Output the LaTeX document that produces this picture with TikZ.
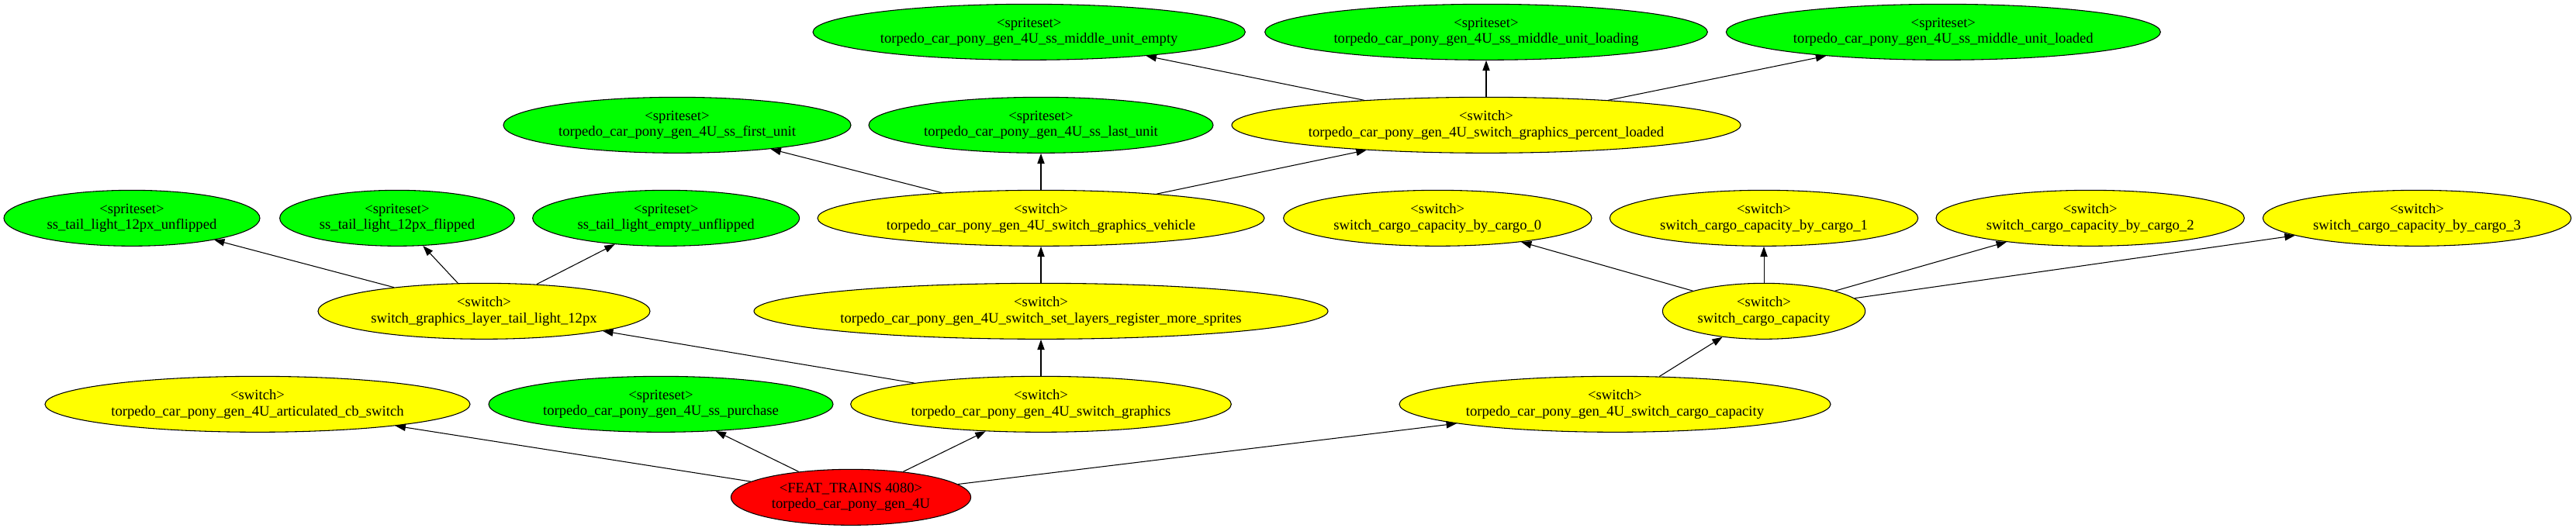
\documentclass[tikz,border=0pt]{standalone}
\usepackage{fontspec}
\setmainfont{Liberation Serif}
\usetikzlibrary{shapes.geometric,arrows.meta}
\tikzset{
  gv/.style={ellipse, draw=black, line width=0.8pt, inner sep=0pt, minimum height=54pt,
    align=center, font=\fontsize{14}{15.5}\selectfont},
  sprite/.style={gv, fill={rgb,255:red,0;green,255;blue,0}},
  swnode/.style={gv, fill={rgb,255:red,255;green,255;blue,0}},
  featnode/.style={gv, fill={rgb,255:red,255;green,0;blue,0}},
  edge/.style={draw=black, line width=0.8pt, -{Triangle[length=10pt,width=7pt]}}
}
\begin{document}
\begin{tikzpicture}[x=1pt,y=-1pt]
\useasboundingbox (0,0) rectangle (2490.75,510.75);
% row 1
\node[sprite, minimum width=418pt] (me) at (995,31) {<spriteset>\\torpedo\_car\_pony\_gen\_4U\_ss\_middle\_unit\_empty};
\node[sprite, minimum width=428pt] (ml) at (1437,31) {<spriteset>\\torpedo\_car\_pony\_gen\_4U\_ss\_middle\_unit\_loading};
\node[sprite, minimum width=420pt] (md) at (1879,31) {<spriteset>\\torpedo\_car\_pony\_gen\_4U\_ss\_middle\_unit\_loaded};
% row 2
\node[sprite, minimum width=336pt] (fu) at (654.75,121) {<spriteset>\\torpedo\_car\_pony\_gen\_4U\_ss\_first\_unit};
\node[sprite, minimum width=333pt] (lu) at (1006.5,121) {<spriteset>\\torpedo\_car\_pony\_gen\_4U\_ss\_last\_unit};
\node[swnode, minimum width=492pt] (pl) at (1437,121) {<switch>\\torpedo\_car\_pony\_gen\_4U\_switch\_graphics\_percent\_loaded};
% row 3
\node[sprite, minimum width=247.5pt] (tu) at (127.5,211) {<spriteset>\\ss\_tail\_light\_12px\_unflipped};
\node[sprite, minimum width=227pt] (tf) at (384,211) {<spriteset>\\ss\_tail\_light\_12px\_flipped};
\node[sprite, minimum width=258pt] (te) at (644,211) {<spriteset>\\ss\_tail\_light\_empty\_unflipped};
\node[swnode, minimum width=432pt] (veh) at (1006.5,211) {<switch>\\torpedo\_car\_pony\_gen\_4U\_switch\_graphics\_vehicle};
\node[swnode, minimum width=298pt] (c0) at (1390,211) {<switch>\\switch\_cargo\_capacity\_by\_cargo\_0};
\node[swnode, minimum width=298pt] (c1) at (1705.5,211) {<switch>\\switch\_cargo\_capacity\_by\_cargo\_1};
\node[swnode, minimum width=298pt] (c2) at (2021,211) {<switch>\\switch\_cargo\_capacity\_by\_cargo\_2};
\node[swnode, minimum width=298pt] (c3) at (2337,211) {<switch>\\switch\_cargo\_capacity\_by\_cargo\_3};
% row 4
\node[swnode, minimum width=321pt] (lt) at (468,301) {<switch>\\switch\_graphics\_layer\_tail\_light\_12px};
\node[swnode, minimum width=555pt] (sl) at (1006.5,301) {<switch>\\torpedo\_car\_pony\_gen\_4U\_switch\_set\_layers\_register\_more\_sprites};
\node[swnode, minimum width=196pt] (scc) at (1705.5,301) {<switch>\\switch\_cargo\_capacity};
% row 5
\node[swnode, minimum width=411pt] (art) at (249,391) {<switch>\\torpedo\_car\_pony\_gen\_4U\_articulated\_cb\_switch};
\node[sprite, minimum width=333pt] (pur) at (639,391) {<spriteset>\\torpedo\_car\_pony\_gen\_4U\_ss\_purchase};
\node[swnode, minimum width=368pt] (sg) at (1006.5,391) {<switch>\\torpedo\_car\_pony\_gen\_4U\_switch\_graphics};
\node[swnode, minimum width=417pt] (tcc) at (1561.5,391) {<switch>\\torpedo\_car\_pony\_gen\_4U\_switch\_cargo\_capacity};
% row 6
\node[featnode, minimum width=232pt] (feat) at (822.75,481) {<FEAT\_TRAINS 4080>\\torpedo\_car\_pony\_gen\_4U};
% edges
\draw[edge] (feat) -- (art);
\draw[edge] (feat) -- (pur);
\draw[edge] (feat) -- (sg);
\draw[edge] (feat) -- (tcc);
\draw[edge] (sg) -- (lt);
\draw[edge] (sg) -- (sl);
\draw[edge] (lt) -- (tu);
\draw[edge] (lt) -- (tf);
\draw[edge] (lt) -- (te);
\draw[edge] (sl) -- (veh);
\draw[edge] (veh) -- (fu);
\draw[edge] (veh) -- (lu);
\draw[edge] (veh) -- (pl);
\draw[edge] (pl) -- (me);
\draw[edge] (pl) -- (ml);
\draw[edge] (pl) -- (md);
\draw[edge] (tcc) -- (scc);
\draw[edge] (scc) -- (c0);
\draw[edge] (scc) -- (c1);
\draw[edge] (scc) -- (c2);
\draw[edge] (scc) -- (c3);
\end{tikzpicture}
\end{document}
